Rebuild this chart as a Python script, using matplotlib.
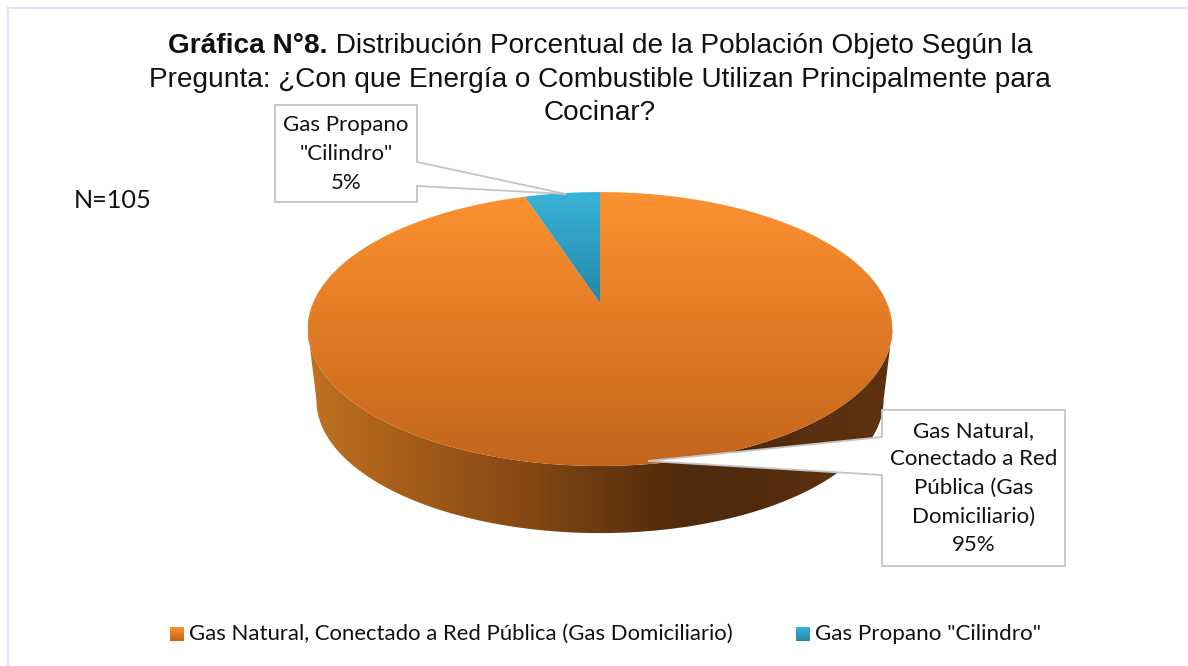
import numpy as np
import matplotlib
matplotlib.use('Agg')
import matplotlib.pyplot as plt
from matplotlib.colors import LinearSegmentedColormap
from matplotlib.patches import Polygon

# data
categories = ['Gas Natural, Conectado a Red Pública (Gas Domiciliario)', 'Gas Propano "Cilindro"']
values = [95, 5]
callouts = ['Gas Natural,\nConectado a Red\nPública (Gas\nDomiciliario)\n95%', 'Gas Propano\n"Cilindro"\n5%']
title_bold = 'Gráfica N°8.'
title_lines = [' Distribución Porcentual de la Población Objeto Según la',
               'Pregunta: ¿Con que Energía o Combustible Utilizan Principalmente para',
               'Cocinar?']
note = 'N=105'

LABEL_FONT = 'Lato'
LABEL_SIZE = 16.0
TITLE_SIZE = 20.2
TEXT_COLOR = '#111111'
BOX_EDGE = '#c4c4c4'


def project(theta, scale=1.0, dy=0.0):
    # pie circle seen in perspective, gives pixel positions
    k = 0.19
    u = np.cos(np.radians(theta))
    v = np.sin(np.radians(theta))
    w = 1 + k * v
    return 600 + scale * 287 * u / w, 303 + dy - scale * 132 * v / w


def fill_gradient(ax, pts, colors, extent, vertical=True):
    # gradient image clipped to a polygon
    cmap = LinearSegmentedColormap.from_list('g', colors)
    grad = np.linspace(0, 1, 256)
    grad = grad.reshape(-1, 1) if vertical else grad.reshape(1, -1)
    shape = Polygon(pts, closed=True, facecolor='none', edgecolor='none')
    ax.add_patch(shape)
    im = ax.imshow(grad, cmap=cmap, extent=extent, aspect='auto', interpolation='bilinear', zorder=2)
    im.set_clip_path(shape)


fig = plt.figure(figsize=(11.88, 6.66), dpi=100)
ax = fig.add_axes([0, 0, 1, 1])

# frame of the chart, only top and left show
ax.plot([8, 1188], [8, 8], color='#d9e6f7', lw=1.5, zorder=1)
ax.plot([8, 8], [8, 666], color='#d9e6f7', lw=1.5, zorder=1)

# wall of the pie
front = np.linspace(190.9, 349.1, 200)
top_x, top_y = project(front)
low_x, low_y = project(front, scale=0.97, dy=72)
wall = np.column_stack([np.r_[top_x, low_x[::-1]], np.r_[top_y, low_y[::-1]]])
wall_colors = ['#bf7220', '#ac621b', '#985417', '#854812', '#6a3a10', '#512b0c', '#4f2a0c', '#5a3010', '#5c3210']
fill_gradient(ax, wall, wall_colors, (308, 893, 540, 320), vertical=False)

# top faces, going clockwise from twelve o'clock
edges = 90 - np.r_[0, np.cumsum(values)] / np.sum(values) * 360
face_colors = [['#fc9230', '#e17a25', '#c2651b'], ['#38b3d8', '#2586a5']]
face_boxes = [(308, 893, 466, 192), (525, 600, 303, 192)]
for i in range(len(values)):
    arc = np.linspace(edges[i], edges[i + 1], 300)
    x, y = project(arc)
    cx, cy = project(np.array([0.0]), scale=0.0)
    pts = np.column_stack([np.r_[cx, x], np.r_[cy, y]])
    fill_gradient(ax, pts, face_colors[i], face_boxes[i])

ax.set_xlim(0, 1188)
ax.set_ylim(666, 0)
ax.axis('off')

# callouts
box_big = [(882, 410), (1065, 410), (1065, 566), (882, 566), (882, 475), (648, 461), (882, 437)]
box_small = [(275, 105), (417, 105), (417, 162), (566, 194), (417, 186), (417, 202), (275, 202)]
for pts in (box_big, box_small):
    ax.add_patch(Polygon(pts, closed=True, facecolor='white', edgecolor=BOX_EDGE, lw=1.3, zorder=3))
ax.text(973.5, 488, callouts[0], ha='center', va='center', family=LABEL_FONT, fontsize=LABEL_SIZE,
        color=TEXT_COLOR, linespacing=1.54, zorder=4)
ax.text(346, 154, callouts[1], ha='center', va='center', family=LABEL_FONT, fontsize=LABEL_SIZE,
        color=TEXT_COLOR, linespacing=1.54, zorder=4)

ax.text(74, 201, note, ha='left', va='center', family=LABEL_FONT, fontsize=18.2,
        color=TEXT_COLOR, zorder=4)

# title, first line has a bold run so it is measured
rend = fig.canvas.get_renderer()
t_bold = ax.text(0, 46, title_bold, fontsize=TITLE_SIZE, family='Liberation Sans', weight='bold',
                 va='center', ha='left', color=TEXT_COLOR, zorder=4)
t_rest = ax.text(0, 46, title_lines[0], fontsize=TITLE_SIZE, family='Liberation Sans',
                 va='center', ha='left', color=TEXT_COLOR, zorder=4)
w_bold = t_bold.get_window_extent(rend).width
w_rest = t_rest.get_window_extent(rend).width
start = 600 - (w_bold + w_rest) / 2
t_bold.set_x(start)
t_rest.set_x(start + w_bold)
ax.text(600, 80, title_lines[1], fontsize=TITLE_SIZE, family='Liberation Sans', va='center', ha='center',
        color=TEXT_COLOR, zorder=4)
ax.text(600, 113, title_lines[2], fontsize=TITLE_SIZE, family='Liberation Sans', va='center', ha='center',
        color=TEXT_COLOR, zorder=4)

# legend
legend_x = [170, 796]
legend_colors = [['#fc9230', '#c2651b'], ['#38b3d8', '#2586a5']]
legend_sizes = [15.9, 16.1]
for i in range(len(categories)):
    x0 = legend_x[i]
    square = [(x0, 627), (x0 + 14, 627), (x0 + 14, 641), (x0, 641)]
    fill_gradient(ax, square, legend_colors[i], (x0, x0 + 14, 641, 627))
    ax.text(x0 + 19, 634, categories[i], ha='left', va='center', family=LABEL_FONT, fontsize=legend_sizes[i],
            color=TEXT_COLOR, zorder=4)

ax.set_xlim(0, 1188)
ax.set_ylim(666, 0)

fig.savefig('out.png', dpi=100, facecolor='white')
